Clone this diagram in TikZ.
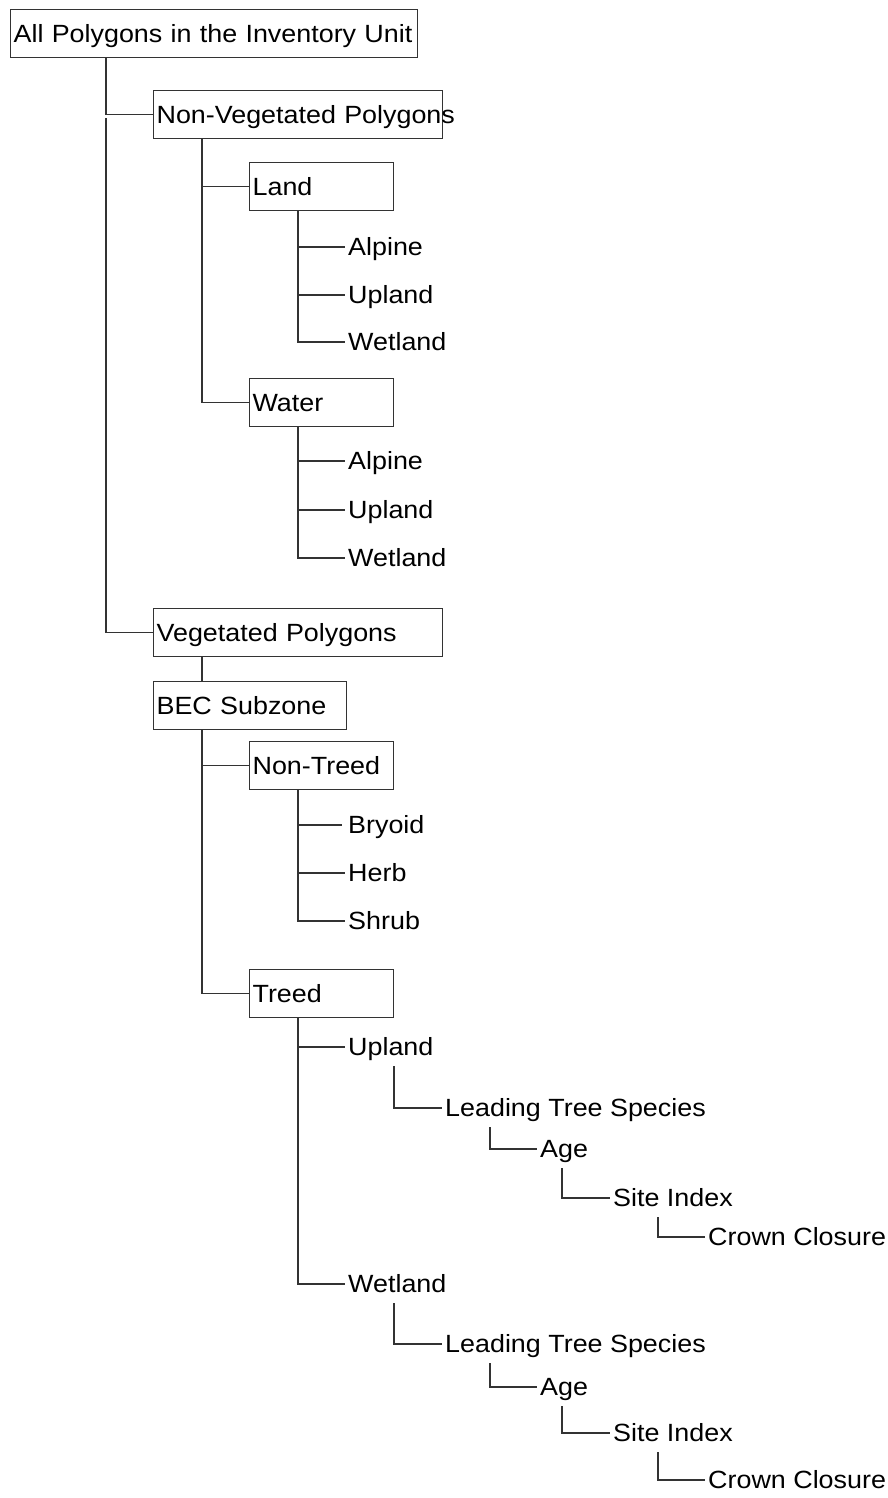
\documentclass[tikz,border=0pt]{standalone}
\usepackage{fontspec}
\setmainfont[FakeStretch=1.08]{Liberation Sans}
\begin{document}
\begin{tikzpicture}[x=1pt,y=-1pt,
  every node/.style={font=\fontsize{24.9}{30}\selectfont},
  conn/.style={draw=black!80,line width=1.2pt},
  boxnode/.style={draw=black!80,line width=1.2pt,anchor=north west,inner xsep=3pt,inner ysep=0pt,
    minimum height=48pt,align=left,text height=17.8pt,text depth=0pt},
  leaf/.style={anchor=west,inner xsep=3pt,inner ysep=5pt,text height=22.8pt,text depth=5pt}]
\useasboundingbox (0,0) rectangle (887,1498);
% boxes
\node[boxnode,text width=401pt] (root) at (10,9) {\mbox{All Polygons in the Inventory Unit}};
\node[boxnode,text width=283pt] (nonveg) at (153,90) {\mbox{Non-Vegetated Polygons}};
\node[boxnode,text width=138pt] (land) at (249,162) {Land};
\node[boxnode,text width=138pt] (water) at (249,378) {Water};
\node[boxnode,text width=283pt] (veg) at (153,608) {\mbox{Vegetated Polygons}};
\node[boxnode,text width=187pt] (bec) at (153,681) {\mbox{BEC Subzone}};
\node[boxnode,text width=138pt] (nontreed) at (249,741) {Non-Treed};
\node[boxnode,text width=138pt] (treed) at (249,969) {Treed};
% leaves
\node[leaf] (la) at (345,247) {Alpine};
\node[leaf] (lu) at (345,295) {Upland};
\node[leaf] (lw) at (345,342) {Wetland};
\node[leaf] (wa) at (345,461) {Alpine};
\node[leaf] (wu) at (345,510) {Upland};
\node[leaf] (ww) at (345,558) {Wetland};
\node[leaf] (bry) at (345,825) {Bryoid};
\node[leaf] (herb) at (345,873) {Herb};
\node[leaf] (shrub) at (345,921) {Shrub};
\node[leaf] (tu) at (345,1047) {Upland};
\node[leaf] (lts1) at (442,1108) {Leading Tree Species};
\node[leaf] (age1) at (537,1149) {Age};
\node[leaf] (si1) at (610,1198) {Site Index};
\node[leaf] (cc1) at (705,1237) {Crown Closure};
\node[leaf] (tw) at (345,1284) {Wetland};
\node[leaf] (lts2) at (442,1344) {Leading Tree Species};
\node[leaf] (age2) at (537,1387) {Age};
\node[leaf] (si2) at (610,1433) {Site Index};
\node[leaf] (cc2) at (705,1480) {Crown Closure};
% connectors
\draw[conn] ([xshift=96pt]root.south west) |- (nonveg.west);
\draw[conn] ([xshift=96pt,yshift=-60pt]root.south west) |- (veg.west);
\draw[conn] ([xshift=49pt]nonveg.south west) |- (land.west);
\draw[conn] ([xshift=49pt]nonveg.south west) |- (water.west);
\foreach \c in {la,lu,lw} \draw[conn] ([xshift=49pt]land.south west) |- (\c.west);
\foreach \c in {wa,wu,ww} \draw[conn] ([xshift=49pt]water.south west) |- (\c.west);
\draw[conn] ([xshift=49pt]veg.south west) -- ([xshift=49pt]bec.north west);
\draw[conn] ([xshift=49pt]bec.south west) |- (nontreed.west);
\draw[conn] ([xshift=49pt]bec.south west) |- (treed.west);
\draw[conn,shorten >=3pt] ([xshift=49pt]nontreed.south west) |- (bry.west);
\foreach \c in {herb,shrub} \draw[conn] ([xshift=49pt]nontreed.south west) |- (\c.west);
\draw[conn] ([xshift=49pt]treed.south west) |- (tu.west);
\draw[conn] ([xshift=49pt]treed.south west) |- (tw.west);
\draw[conn] ([xshift=49pt]tu.south west) |- (lts1.west);
\draw[conn] ([xshift=48pt]lts1.south west) |- (age1.west);
\draw[conn] ([xshift=25pt]age1.south west) |- (si1.west);
\draw[conn] ([xshift=48pt]si1.south west) |- (cc1.west);
\draw[conn] ([xshift=49pt]tw.south west) |- (lts2.west);
\draw[conn] ([xshift=48pt]lts2.south west) |- (age2.west);
\draw[conn] ([xshift=25pt]age2.south west) |- (si2.west);
\draw[conn] ([xshift=48pt]si2.south west) |- (cc2.west);
\end{tikzpicture}
\end{document}
